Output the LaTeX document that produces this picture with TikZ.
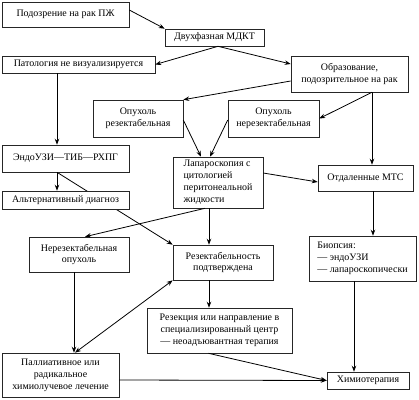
\documentclass[tikz,border=0pt]{standalone}
\usepackage{fontspec}
\setmainfont{Liberation Serif}
\usetikzlibrary{arrows.meta,backgrounds}
\begin{document}
\begin{tikzpicture}[x=1bp,y=-1bp,
  box/.style={draw=black!85,line width=0.6pt,fill=white,inner sep=0pt,align=center,
    font=\fontsize{10}{12}\selectfont},
  lbox/.style={box,align=left},
  arr/.style={line width=0.8pt,-{Stealth[length=6pt,width=4.5pt]}},
  darr/.style={line width=0.8pt,{Stealth[length=6pt,width=4.5pt]}-{Stealth[length=6pt,width=4.5pt]}}]
\useasboundingbox (0,0) rectangle (419,400);
\node[box,minimum width=127bp,minimum height=25bp] (b1) at (65.5,14.5) {Подозрение на рак ПЖ};
\node[box,minimum width=99bp,minimum height=17bp] (b2) at (214.5,37.5) {Двухфазная МДКТ};
\node[box,minimum width=153bp,minimum height=17bp] (b3) at (78.5,64.5) {Патология не визуализируется};
\node[box,minimum width=117bp,minimum height=36bp] (b4) at (349.5,74) {Образование,\\подозрительное на рак};
\node[box,minimum width=90bp,minimum height=37bp] (b5) at (138,118.5) {Опухоль\\резектабельная};
\node[box,minimum width=91bp,minimum height=37bp] (b6) at (273.5,118.5) {Опухоль\\нерезектабельная};
\node[box,minimum width=127bp,minimum height=27bp] (b7) at (65.5,158.5) {ЭндоУЗИ—ТИБ—РХПГ};
\node[box,minimum width=127bp,minimum height=18bp] (b8) at (65.5,200) {Альтернативный диагноз};
\node[lbox,minimum width=90bp,minimum height=51bp] (b9) at (218,182.5) {Лапароскопия с\\цитологией\\перитонеальной\\жидкости};
\node[box,minimum width=95bp,minimum height=26bp] (b10) at (365.5,178) {Отдаленные МТС};
\node[box,minimum width=100bp,minimum height=35bp] (b11) at (79,254.5) {Нерезектабельная\\опухоль};
\node[box,minimum width=100bp,minimum height=35bp] (b12) at (223,262.5) {Резектабельность\\подтверждена};
\node[lbox,minimum width=107bp,minimum height=45bp] (b13) at (362.5,258.5) {Биопсия:\\— эндоУЗИ\\— лапароскопически};
\node[box,minimum width=145bp,minimum height=45bp] (b14) at (219.5,330.5) {Резекция или направление в\\специализированный центр\\— неоадъювантная терапия};
\node[box,minimum width=117bp,minimum height=44bp] (b15) at (60.5,375) {Паллиативное или\\радикальное\\химиолучевое лечение};
\node[box,minimum width=82bp,minimum height=17bp] (b16) at (368,380.5) {Химиотерапия};
\coordinate (s2) at ([xshift=3.5bp]b2.south);
\coordinate (s4) at ([xshift=22.5bp]b4.south);
\coordinate (s3) at ([xshift=-21.5bp]b3.south);
\coordinate (s7) at ([xshift=-8.5bp]b7.south);
\coordinate (t15) at ([xshift=14.5bp]b15.north);
\begin{pgfonlayer}{background}
\draw[arr] (s7) -- (b12.north west);
\end{pgfonlayer}
\draw[arr] ([yshift=4.5bp]b1.east) -- (b2.north west);
\draw[arr] (s2) -- (b3.east);
\draw[arr] (s2) -- ([yshift=10bp]b4.west);
\draw[arr] ([yshift=-7bp]b4.west) -- (b5.north east);
\draw[arr] (s4) -- (b6.east);
\draw[arr] (s4) -- (s4 |- b10.north);
\draw[arr] (s3) -- (s3 |- b7.north);
\draw[arr] (s7) -- (s7 |- b8.north);
\draw[arr] ([yshift=-1.5bp]b5.east) -- ([xshift=-17bp]b9.north);
\draw[arr] ([yshift=-1.5bp]b6.west) -- ([xshift=-8bp]b9.north);
\draw[arr] ([yshift=9.5bp]b9.east) -- ([yshift=-4bp]b10.west);
\draw[arr] ([xshift=-13bp]b9.south) -- ([xshift=6bp]b11.north);
\draw[arr] ([xshift=-9bp]b9.south) -- ([xshift=-9bp]b9.south |- b12.north);
\draw[arr] ([xshift=7.5bp]b10.south) -- ([xshift=7.5bp]b10.south |- b13.north);
\draw[arr] ([xshift=-5bp]b11.south) -- ([xshift=-5bp]b11.south |- b15.north);
\draw[darr] (t15) -- (b12.south west);
\draw[arr] ([xshift=-14bp]b12.south) -- ([xshift=-14bp]b12.south |- b14.north);
\draw[arr] ([xshift=-11bp]b14.south) -- (b16.west);
\draw[arr] ([yshift=-5bp]b15.east) -- (b16.west);
\draw[arr] ([xshift=-8.5bp]b13.south) -- ([xshift=-8.5bp]b13.south |- b16.north);
\end{tikzpicture}
\end{document}
